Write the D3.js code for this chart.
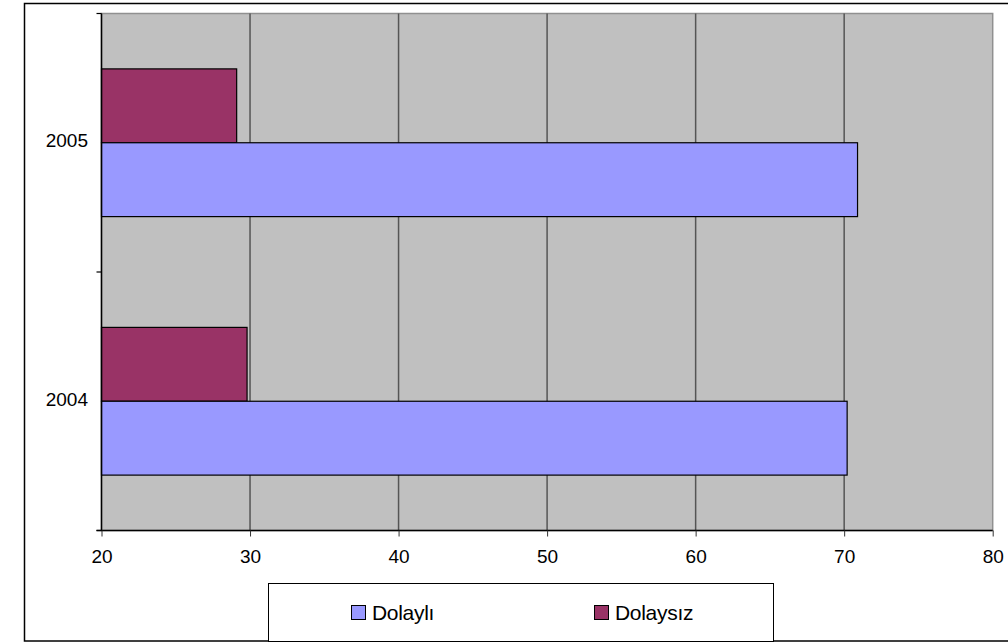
<!DOCTYPE html>
<html>
<head>
<meta charset="utf-8">
<script src="https://cdn.jsdelivr.net/npm/d3@7"></script>
<style>
  body { margin: 0; background: #fff; }
  text { font-family: "Liberation Sans", Arial, sans-serif; }
</style>
</head>
<body>
<script>
// data (percent shares)
var years = ["2005", "2004"];
var seriesNames = ["Dolaysız", "Dolaylı"];
var dolaysiz = [29.1, 29.8];
var dolayli = [70.9, 70.2];
var xTicks = [20, 30, 40, 50, 60, 70, 80];

var colors = { "Dolaylı": "#9999FF", "Dolaysız": "#993366" };

var W = 1008, H = 644;
var plot = { left: 101.5, top: 13.5, right: 992.7, bottom: 530.5 };

var svg = d3.select("body").append("svg")
  .attr("width", W).attr("height", H);

// outer frame
svg.append("rect")
  .attr("x", 24.5).attr("y", 3.5)
  .attr("width", 1000).attr("height", 637.5)
  .attr("fill", "#fff").attr("stroke", "#000").attr("stroke-width", 1.5);

var x = d3.scaleLinear().domain([20, 80]).range([plot.left, plot.right]);
var y = d3.scaleBand().domain(years).range([plot.top, plot.bottom]).padding(0);
var ySub = d3.scaleBand().domain(seriesNames).range([0, y.bandwidth()])
  .paddingInner(0).paddingOuter(0.75);

// plot background
svg.append("rect")
  .attr("x", plot.left).attr("y", plot.top)
  .attr("width", plot.right - plot.left).attr("height", plot.bottom - plot.top)
  .attr("fill", "#C0C0C0").attr("stroke", "#909090").attr("stroke-width", 1.5);

// vertical gridlines
svg.append("g").selectAll("line")
  .data(xTicks.slice(1, -1))
  .enter().append("line")
  .attr("x1", function(d){ return x(d); }).attr("x2", function(d){ return x(d); })
  .attr("y1", plot.top).attr("y2", plot.bottom)
  .attr("stroke", "#555").attr("stroke-width", 1.5);

// bars
var rows = [];
years.forEach(function(yr, i){
  rows.push({ year: yr, s: "Dolaysız", v: dolaysiz[i] });
  rows.push({ year: yr, s: "Dolaylı", v: dolayli[i] });
});

svg.append("g").selectAll("rect")
  .data(rows)
  .enter().append("rect")
  .attr("x", x(20))
  .attr("y", function(d){ return y(d.year) + ySub(d.s); })
  .attr("width", function(d){ return x(d.v) - x(20); })
  .attr("height", ySub.bandwidth())
  .attr("fill", function(d){ return colors[d.s]; })
  .attr("stroke", "#000").attr("stroke-width", 1.2);

// x axis
var xAxis = d3.axisBottom(x).tickValues(xTicks).tickSize(6).tickPadding(13)
  .tickFormat(d3.format("d"));
var gx = svg.append("g").attr("transform", "translate(0," + plot.bottom + ")").call(xAxis);
gx.select(".domain").attr("stroke", "#000").attr("stroke-width", 1.5)
  .attr("d", "M" + (plot.left - 5) + ",0H" + plot.right);
gx.selectAll(".tick line").attr("stroke", "#333");
gx.selectAll(".tick text").attr("font-size", 19).attr("fill", "#000")
  .attr("font-family", "Liberation Sans, Arial, sans-serif");

// y axis: ticks at category boundaries, labels at centres
var gy = svg.append("g");
gy.append("line")
  .attr("x1", plot.left).attr("x2", plot.left)
  .attr("y1", plot.top).attr("y2", plot.bottom)
  .attr("stroke", "#000").attr("stroke-width", 1.5);
var bounds = [plot.top].concat(years.map(function(d){ return y(d) + y.bandwidth(); }));
gy.selectAll("line.tk").data(bounds).enter().append("line")
  .attr("class", "tk")
  .attr("x1", plot.left - 5).attr("x2", plot.left)
  .attr("y1", function(d){ return d; }).attr("y2", function(d){ return d; })
  .attr("stroke", "#000").attr("stroke-width", 1.2);
gy.selectAll("text").data(years).enter().append("text")
  .attr("x", 88)
  .attr("y", function(d){ return y(d) + y.bandwidth() / 2 - 2; })
  .attr("dy", "0.35em")
  .attr("text-anchor", "end")
  .attr("font-size", 19)
  .text(function(d){ return d; });

// legend
var lg = svg.append("g");
lg.append("rect")
  .attr("x", 268.5).attr("y", 583.5).attr("width", 505).attr("height", 58)
  .attr("fill", "#fff").attr("stroke", "#000").attr("stroke-width", 1);
var legendItems = [
  { name: "Dolaylı", x: 351 },
  { name: "Dolaysız", x: 594 }
];
var li = lg.selectAll("g.item").data(legendItems).enter().append("g")
  .attr("class", "item")
  .attr("transform", function(d){ return "translate(" + d.x + ",605)"; });
li.append("rect")
  .attr("x", 0.5).attr("y", 0.5).attr("width", 14).attr("height", 14)
  .attr("fill", function(d){ return colors[d.name]; })
  .attr("stroke", "#000").attr("stroke-width", 1);
li.append("text")
  .attr("x", 21).attr("y", 7.5).attr("dy", "0.35em")
  .attr("font-size", 21).attr("letter-spacing", -0.3)
  .text(function(d){ return d.name; });
</script>
</body>
</html>
